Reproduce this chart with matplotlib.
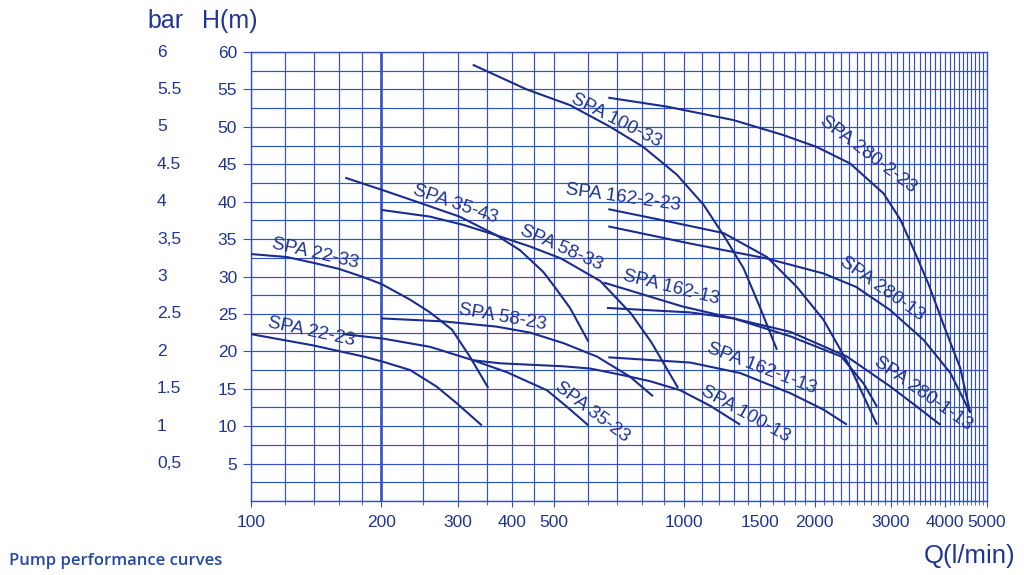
import matplotlib
matplotlib.use("Agg")
import matplotlib.pyplot as plt
from matplotlib.transforms import blended_transform_factory

plt.rcParams['font.family'] = ['Liberation Sans', 'DejaVu Sans']

# ---------------- data ----------------
q_22_33 = [100, 121, 140, 160, 180, 200, 233, 259, 291, 320, 353]
h_22_33 = [33.0, 32.6, 31.8, 31.0, 30.0, 29.0, 26.9, 25.2, 22.9, 19.3, 15.1]

q_22_23 = [100, 139, 182, 202, 233, 268, 298, 341]
h_22_23 = [22.3, 20.8, 19.3, 18.6, 17.5, 15.3, 13.1, 10.1]

q_35_43 = [165, 200, 241, 303, 369, 418, 473, 504, 545, 601]
h_35_43 = [43.2, 41.6, 40.0, 38.0, 35.5, 33.5, 30.6, 28.5, 25.8, 21.3]

q_35_23 = [163, 202, 259, 326, 390, 482, 536, 601]
h_35_23 = [22.3, 21.7, 20.6, 18.8, 17.2, 14.8, 12.6, 10.1]

q_58_33 = [200, 259, 309, 369, 441, 520, 640, 755, 840, 968]
h_58_33 = [38.9, 38.0, 36.9, 35.5, 34.0, 32.4, 29.4, 25.0, 21.2, 15.1]

q_58_23 = [200, 278, 369, 441, 526, 629, 750, 847]
h_58_23 = [24.4, 24.0, 23.3, 22.5, 21.1, 19.3, 16.6, 14.0]

q_100_33 = [325, 433, 545, 675, 805, 962, 1108, 1233, 1371, 1498, 1637]
h_100_33 = [58.3, 55.0, 52.9, 50.0, 47.3, 43.6, 39.6, 35.5, 31.1, 25.8, 20.2]

q_100_13 = [326, 376, 526, 607, 724, 835, 979, 1150, 1346]
h_100_13 = [18.8, 18.4, 18.0, 17.7, 16.8, 16.0, 14.8, 12.7, 10.2]

q_162_2_23 = [668, 912, 1233, 1553, 1820, 2098, 2416, 2786]
h_162_2_23 = [39.0, 37.4, 35.8, 32.6, 28.6, 24.2, 17.9, 10.2]

q_162_13 = [651, 990, 1300, 1759, 2305, 2595, 2786]
h_162_13 = [29.2, 26.0, 24.4, 22.0, 19.3, 15.7, 12.6]

q_162_1_13 = [668, 1033, 1346, 1759, 2098, 2375]
h_162_1_13 = [19.2, 18.5, 17.1, 14.4, 12.2, 10.2]

q_280_2_23 = [668, 912, 1300, 1694, 2025, 2416, 2885, 3155, 3446, 3663, 3972, 4336, 4573]
h_280_2_23 = [53.9, 52.7, 50.9, 48.9, 47.3, 45.1, 41.1, 37.6, 32.6, 29.0, 23.5, 17.8, 11.8]

q_280_13 = [668, 1033, 1553, 2098, 2495, 2991, 3573, 4116, 4573]
h_280_13 = [36.7, 34.4, 32.4, 30.4, 28.6, 25.5, 21.5, 17.1, 11.8]

q_280_1_13 = [663, 1033, 1300, 1759, 2375, 2991, 3446, 3897]
h_280_1_13 = [25.8, 25.2, 24.4, 22.6, 19.3, 15.3, 12.6, 10.2]

curve_q = [q_22_33, q_22_23, q_35_43, q_35_23, q_58_33, q_58_23, q_100_33,
           q_100_13, q_162_2_23, q_162_13, q_162_1_13, q_280_2_23, q_280_13, q_280_1_13]
curve_h = [h_22_33, h_22_23, h_35_43, h_35_23, h_58_33, h_58_23, h_100_33,
           h_100_13, h_162_2_23, h_162_13, h_162_1_13, h_280_2_23, h_280_13, h_280_1_13]

label_text = ["SPA 22-33", "SPA 22-23", "SPA 35-43", "SPA 35-23", "SPA 58-33", "SPA 58-23",
              "SPA 100-33", "SPA 100-13", "SPA 162-2-23", "SPA 162-13", "SPA 162-1-13",
              "SPA 280-2-23", "SPA 280-13", "SPA 280-1-13"]
label_q = [141, 138, 297, 613, 520, 380, 697, 1383, 721, 933, 1510, 2660, 2860, 3560]
label_h = [33.1, 22.6, 39.7, 11.9, 33.8, 24.5, 50.9, 11.6, 40.6, 28.5, 17.7, 46.3, 28.3, 14.3]
label_rot = [-13, -12, -19, -37, -24, -10, -27, -29, -8, -14, -21, -37, -35, -35]

x_tick_values = [100, 200, 300, 400, 500, 1000, 1500, 2000, 3000, 4000, 5000]
x_grid_values = (list(range(100, 200, 20)) + list(range(200, 500, 50)) +
                 list(range(500, 1000, 100)) + list(range(1000, 5001, 100)))
h_tick_values = [5, 10, 15, 20, 25, 30, 35, 40, 45, 50, 55, 60]
bar_labels = ["0,5", "1", "1.5", "2", "2.5", "3", "3,5", "4", "4.5", "5", "5.5", "6"]
h_grid_values = [i * 2.5 for i in range(25)]

# ---------------- styling ----------------
GRID = '#3450c6'
CURVE = '#1b2d8c'
TEXT = '#1f3592'

fig = plt.figure(figsize=(10.24, 5.75), dpi=100)
ax = fig.add_axes([251 / 1024, 74 / 575, 736 / 1024, 449 / 575])
ax.set_xscale('log')
ax.set_xlim(100, 5000)
ax.set_ylim(0, 60)

for xv in x_grid_values:
    ax.axvline(xv, color=GRID, lw=1.9 if xv == 200 else 0.85, zorder=1)
for hv in h_grid_values:
    ax.axhline(hv, color=GRID, lw=0.85, zorder=1)

for sp in ax.spines.values():
    sp.set_color(GRID)
    sp.set_linewidth(1.0)

for q, h in zip(curve_q, curve_h):
    ax.plot(q, h, color=CURVE, lw=1.5, zorder=3, solid_joinstyle='round',
            solid_capstyle='butt')

for t, q, h, r in zip(label_text, label_q, label_h, label_rot):
    ax.text(q, h, t, rotation=r, rotation_mode='anchor', ha='center', va='center',
            fontsize=13.5, color=TEXT, zorder=4)

ax.set_xticks(x_tick_values)
ax.set_xticklabels([str(v) for v in x_tick_values])
ax.set_xticks(x_grid_values, minor=True)
ax.xaxis.set_minor_formatter(plt.NullFormatter())
ax.tick_params(axis='x', which='major', length=4, pad=6, color=GRID,
               labelsize=12.5, labelcolor=TEXT)
ax.tick_params(axis='x', which='minor', length=3, color=GRID)

ax.set_yticks(h_tick_values)
ax.set_yticklabels([str(v) for v in h_tick_values])
ax.tick_params(axis='y', which='major', length=6, pad=4, color=GRID,
               labelsize=12.5, labelcolor=TEXT)
ax.yaxis.set_minor_locator(plt.NullLocator())

# bar column
trans = blended_transform_factory(fig.transFigure, ax.transData)
for hv, bl in zip(h_tick_values, bar_labels):
    fig.text(157 / 1024, hv, bl, transform=trans, ha='left', va='center',
             fontsize=12.5, color=TEXT)

fig.text(147 / 1024, 1 - 28 / 575, "bar", ha='left', va='baseline', fontsize=18, color=TEXT)
fig.text(202 / 1024, 1 - 28 / 575, "H(m)", ha='left', va='baseline', fontsize=18, color=TEXT)
fig.text(1015 / 1024, 1 - 563 / 575, "Q(l/min)", ha='right', va='baseline', fontsize=18.5, color=TEXT)
fig.text(9 / 1024, 1 - 565 / 575, "Pump performance curves", ha='left', va='baseline',
         fontsize=12, color='#2447a8', family=['Open Sans', 'DejaVu Sans'], fontweight='semibold')

fig.savefig('out.png', dpi=100, facecolor='white')
